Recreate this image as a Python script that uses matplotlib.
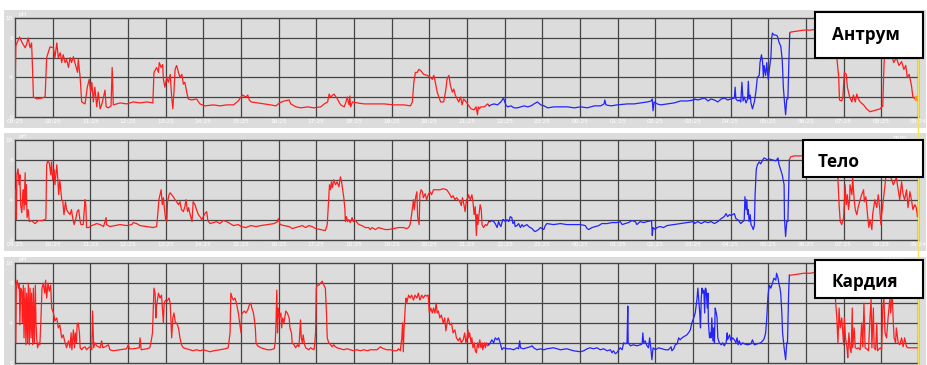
import numpy as np
import matplotlib
matplotlib.use("Agg")
import matplotlib.pyplot as plt
from matplotlib.patches import Rectangle

# ---- data: hours since 09:25 and pH, three probes ----
antrum_t = [0.00, 0.02, 0.12, 0.18, 0.27, 0.31, 0.35, 0.40, 0.44, 0.46, 0.49, 0.58, 0.71, 0.80, 0.84, 0.93,
            1.02, 1.06, 1.11, 1.15, 1.20, 1.24, 1.28, 1.33, 1.37, 1.42, 1.46, 1.50, 1.55, 1.59, 1.66, 1.68,
            1.73, 1.77, 1.86, 1.92, 1.97, 2.01, 2.04, 2.08, 2.12, 2.17, 2.21, 2.26, 2.30, 2.35, 2.39, 2.42,
            2.48, 2.55, 2.58, 2.61, 2.79, 2.97, 3.14, 3.32, 3.50, 3.66, 3.69, 3.76, 3.81, 3.83, 3.88, 3.92,
            3.94, 3.98, 4.03, 4.07, 4.12, 4.16, 4.19, 4.22, 4.25, 4.29, 4.34, 4.38, 4.43, 4.47, 4.51, 4.56,
            4.60, 4.69, 4.82, 4.91, 5.04, 5.27, 5.44, 5.62, 5.80, 5.93,
            5.96, 6.04, 6.13, 6.18, 6.22, 6.27, 6.44, 6.62, 6.79, 6.93, 7.02, 7.15, 7.28, 7.32, 7.46, 7.59,
            7.77, 7.94, 8.12, 8.21, 8.30, 8.34, 8.38, 8.47, 8.56, 8.60, 8.65, 8.74, 8.78, 8.82, 8.87, 8.89,
            8.91, 8.96, 9.09, 9.27, 9.53, 9.80, 10.06, 10.33, 10.50, 10.55, 10.59, 10.63, 10.68, 10.72, 10.77,
            10.81, 10.85, 10.94, 11.03, 11.08, 11.12, 11.16, 11.21, 11.30, 11.38, 11.43, 11.47, 11.52, 11.56,
            11.61, 11.65, 11.69, 11.74, 11.78, 11.83, 11.87, 11.91, 11.96, 12.05,
            12.11, 12.19, 12.24, 12.28, 12.30, 12.33, 12.37, 12.46, 12.55, 12.59, 12.64, 12.72, 12.81, 12.90,
            12.97, 13.03, 13.08, 13.17, 13.25, 13.34, 13.43, 13.52, 13.61, 13.70, 13.78, 13.87, 13.96, 14.05,
            14.14, 14.31, 14.49, 14.67, 14.85, 15.02, 15.20, 15.38, 15.55, 15.64, 15.66, 15.69, 15.82, 15.99,
            16.26, 16.44, 16.61, 16.79, 16.89, 16.92, 16.94, 16.97, 17.05, 17.14, 17.32, 17.50, 17.67, 17.85,
            18.03,
            18.04, 18.13, 18.22, 18.31, 18.40, 18.48, 18.57, 18.66, 18.75, 18.84, 18.92, 19.01, 19.10, 19.12,
            19.14, 19.19, 19.23, 19.27, 19.30, 19.33, 19.36, 19.41, 19.45, 19.47, 19.49, 19.52, 19.54, 19.58,
            19.63, 19.67, 19.71, 19.76, 19.78, 19.82, 19.85, 19.87, 19.89, 19.93, 19.96, 19.98, 20.00, 20.02,
            20.05, 20.07, 20.09, 20.11, 20.15, 20.20, 20.24, 20.29, 20.33, 20.37, 20.40, 20.43, 20.46, 20.49,
            20.52, 20.55, 20.57, 20.59, 20.77, 20.94, 21.12, 21.30, 21.56, 21.78, 21.82, 21.87, 21.89, 21.95,
            21.98, 22.02, 22.07, 22.10, 22.16, 22.22, 22.26, 22.31, 22.35, 22.39, 22.44, 22.53, 22.61, 22.70,
            22.79, 22.88, 22.97, 23.04, 23.07, 23.11, 23.16, 23.21, 23.27, 23.33, 23.40, 23.47, 23.54, 23.60,
            23.65, 23.69, 23.74, 23.80, 23.84, 23.90, 23.96]
antrum_ph = [2.0, 7.2, 8.1, 7.6, 7.0, 7.4, 8.0, 7.0, 7.5, 5.5, 2.0, 1.8, 1.9, 2.0, 6.0, 7.1,
             7.0, 6.0, 7.5, 6.0, 6.5, 5.5, 6.3, 5.5, 5.8, 5.0, 6.0, 5.5, 6.1, 5.5, 4.5, 5.8,
             4.0, 1.5, 1.3, 3.0, 3.8, 2.5, 3.5, 1.5, 3.0, 1.0, 2.5, 0.8, 1.2, 2.0, 2.7, 1.0,
             0.9, 1.1, 5.0, 1.2, 1.4, 1.3, 1.5, 1.4, 1.5, 1.4, 4.5, 5.0, 4.5, 5.5, 5.0, 5.3,
             3.8, 3.0, 4.0, 3.5, 4.3, 2.0, 0.8, 2.5, 4.8, 5.2, 4.5, 4.0, 4.3, 3.3, 3.5, 2.5,
             1.8, 1.7, 1.8, 1.3, 1.1, 1.2, 1.1, 1.2, 1.2, 1.6,
             1.8, 2.2, 2.0, 2.2, 1.7, 1.5, 1.4, 1.3, 1.2, 1.1, 1.4, 1.6, 1.7, 1.3, 1.0, 0.9,
             1.0, 0.9, 1.0, 1.3, 1.5, 2.3, 2.0, 2.3, 1.8, 1.5, 1.2, 1.0, 1.4, 2.0, 1.2, 2.1,
             1.0, 1.5, 1.4, 1.3, 1.3, 1.3, 1.2, 1.2, 1.1, 1.5, 3.5, 4.5, 4.5, 4.8, 4.7,
             4.5, 4.3, 4.2, 4.0, 3.8, 4.2, 3.5, 2.5, 1.5, 1.5, 2.5, 3.8, 4.2, 3.2,
             2.5, 2.8, 2.2, 1.8, 1.5, 2.0, 1.2, 1.8, 1.6, 1.1,
             0.8, 0.7, 1.0, 0.2, 1.0, 0.8, 1.0, 1.0, 1.3, 1.1, 1.2, 1.3, 1.2, 1.5,
             1.9, 1.2, 1.0, 1.1, 0.9, 0.9, 1.0, 1.1, 1.0, 1.1, 1.3, 1.5, 1.2, 1.1,
             0.9, 1.0, 1.0, 1.0, 0.9, 1.0, 0.9, 1.1, 1.1, 1.3, 1.7, 1.2, 1.1, 1.2,
             1.3, 1.3, 1.4, 1.5, 1.6, 1.8, 0.6, 1.5, 1.3, 1.2, 1.3, 1.4, 1.6, 1.6,
             1.7,
             1.8, 1.7, 1.8, 1.9, 1.6, 1.8, 1.7, 1.5, 1.8, 1.9, 1.7, 1.8, 1.9, 3.0,
             1.8, 1.6, 1.7, 1.5, 3.5, 1.6, 2.0, 1.4, 1.8, 3.6, 1.8, 2.2, 1.4, 0.8,
             1.5, 2.5, 4.0, 4.2, 5.5, 6.3, 5.5, 4.0, 5.2, 4.2, 5.5, 4.5, 3.8, 4.5,
             5.5, 6.0, 8.0, 8.5, 8.3, 8.3, 8.2, 7.5, 7.2, 5.8, 3.0, 1.5, 0.2, 1.8,
             1.8, 6.0, 8.5, 8.6, 8.7, 8.8, 8.8, 8.9, 8.9, 8.8, 6.0, 4.0, 1.7, 1.6,
             2.0, 4.5, 4.3, 3.0, 2.0, 1.5, 2.2, 1.5, 2.3, 1.8, 1.5, 1.2, 0.8, 0.5,
             0.6, 0.7, 0.8, 1.1, 5.0, 8.0, 7.5, 6.0, 6.3, 5.5, 6.0, 5.2, 5.6, 4.8,
             5.2, 4.0, 4.3, 3.2, 2.0, 1.8, 1.9]

telo_t = [0.00, 0.02, 0.035, 0.05, 0.08, 0.11, 0.13, 0.15, 0.18, 0.20, 0.22, 0.24, 0.27, 0.28, 0.30, 0.32,
          0.35, 0.38, 0.44, 0.53, 0.62, 0.71, 0.80, 0.82, 0.84, 0.87, 0.91, 0.95, 0.97, 1.00, 1.04, 1.06,
          1.11, 1.13, 1.16, 1.19, 1.22, 1.24, 1.27, 1.30, 1.34, 1.37, 1.42, 1.46, 1.50, 1.53, 1.57, 1.61,
          1.65, 1.69, 1.73, 1.75, 1.81, 1.86, 1.88, 1.90, 1.95, 2.04, 2.17, 2.26, 2.35, 2.39, 2.42, 2.43,
          2.52, 2.65, 2.79, 2.96, 3.10, 3.14, 3.23, 3.32, 3.50, 3.67, 3.76, 3.79, 3.82, 3.85, 3.88, 3.91,
          3.94, 3.97, 4.00, 4.03, 4.05, 4.09, 4.12, 4.16, 4.20, 4.25, 4.29, 4.34, 4.38, 4.42, 4.47, 4.51,
          4.54, 4.58, 4.61, 4.65, 4.70, 4.73, 4.78, 4.82, 4.87, 4.91, 4.96, 5.00, 5.04, 5.09, 5.12, 5.18,
          5.27, 5.35, 5.44, 5.53, 5.62, 5.71, 5.80, 5.93,
          6.00, 6.13, 6.26, 6.40, 6.53, 6.70, 6.88, 6.97, 6.99, 7.04, 7.14, 7.28, 7.36, 7.45, 7.54, 7.63,
          7.72, 7.80, 7.89, 7.98, 8.11, 8.24, 8.29, 8.32, 8.35, 8.38, 8.40, 8.43, 8.46, 8.51, 8.55, 8.60,
          8.64, 8.67, 8.70, 8.73, 8.76, 8.77, 8.80, 8.83, 8.86, 8.90, 8.95, 8.98, 9.01, 9.06, 9.13, 9.21,
          9.30, 9.39, 9.43, 9.48, 9.57, 9.65, 9.74, 9.83, 9.92, 10.05, 10.18, 10.31, 10.40, 10.45, 10.49,
          10.53, 10.58, 10.60, 10.64, 10.67, 10.69, 10.73, 10.75, 10.78, 10.82, 10.84, 10.89, 10.93, 10.97,
          11.02, 11.06, 11.11, 11.15, 11.19, 11.24, 11.28, 11.37, 11.46, 11.50, 11.55, 11.59, 11.63, 11.68,
          11.72, 11.77, 11.81, 11.85, 11.88, 11.92, 11.95, 11.99, 12.03,
          12.04, 12.09, 12.13, 12.16, 12.19, 12.22, 12.25, 12.27, 12.29, 12.33, 12.35, 12.38, 12.40, 12.44,
          12.49, 12.53, 12.58, 12.62, 12.66, 12.71, 12.75, 12.80, 12.84, 12.87, 12.90, 12.95, 12.97, 13.02,
          13.06, 13.11, 13.15, 13.19, 13.22, 13.26, 13.28, 13.33, 13.37, 13.42, 13.46, 13.50, 13.59, 13.64,
          13.68, 13.73, 13.77, 13.81, 13.86, 13.90, 13.95, 13.99, 14.04, 14.08, 14.12, 14.30, 14.48, 14.65,
          14.83, 15.01, 15.14, 15.19, 15.23, 15.32, 15.41, 15.50, 15.58, 15.72, 15.85, 15.98, 16.07, 16.12,
          16.20, 16.29, 16.38, 16.47, 16.51, 16.60, 16.69, 16.78, 16.90, 16.92, 16.94, 17.00, 17.04, 17.13,
          17.22, 17.31, 17.49, 17.66, 17.84, 18.02,
          18.04, 18.13, 18.22, 18.31, 18.40, 18.48, 18.57, 18.66, 18.75, 18.83, 18.88, 18.92, 18.97, 19.01,
          19.05, 19.10, 19.14, 19.19, 19.23, 19.27, 19.32, 19.36, 19.38, 19.41, 19.43, 19.45, 19.47, 19.49,
          19.52, 19.54, 19.57, 19.60, 19.63, 19.65, 19.68, 19.71, 19.76, 19.80, 19.85, 19.89, 19.98, 20.02,
          20.11, 20.20, 20.26, 20.28, 20.33, 20.37, 20.42, 20.43, 20.46, 20.49, 20.52, 20.56, 20.59, 20.68,
          20.86, 21.03, 21.30, 21.51, 21.82, 21.85, 21.88, 21.91, 21.95, 22.00, 22.04, 22.07, 22.10, 22.13,
          22.16, 22.17, 22.22, 22.24, 22.28, 22.31, 22.35, 22.39, 22.44, 22.48, 22.53, 22.55, 22.59, 22.61,
          22.64, 22.67, 22.70, 22.75, 22.77, 22.81, 22.83, 22.88, 22.92, 22.96, 22.99, 23.01, 23.04, 23.07,
          23.10, 23.14, 23.23, 23.32, 23.40, 23.49, 23.54, 23.58, 23.62, 23.67, 23.71, 23.76, 23.80, 23.84,
          23.89, 23.93, 23.96]
telo_ph = [3.0, 5.0, 2.0, 6.5, 7.1, 5.5, 6.5, 3.5, 2.7, 4.0, 5.0, 3.0, 6.7, 3.5, 5.5, 2.2,
           3.0, 1.8, 1.9, 1.6, 1.9, 1.9, 2.0, 2.1, 7.5, 7.9, 7.7, 6.5, 7.8, 6.0, 7.0, 5.5,
           7.5, 6.5, 4.5, 6.0, 4.8, 4.0, 3.8, 2.5, 3.8, 3.0, 2.7, 2.5, 3.0, 2.2, 1.5, 2.0,
           2.8, 3.0, 1.8, 1.5, 1.5, 4.0, 3.5, 1.2, 1.2, 1.4, 1.6, 1.5, 1.3, 1.8, 2.2, 1.5,
           1.3, 1.4, 1.5, 1.4, 1.5, 1.7, 1.6, 1.4, 1.3, 1.2, 1.3, 2.5, 4.0, 4.5, 5.0, 3.5,
           4.2, 3.0, 2.0, 1.8, 3.8, 4.5, 4.7, 4.5, 4.3, 4.0, 3.8, 3.5, 3.8, 3.0, 2.8, 3.3,
           4.0, 2.8, 3.2, 2.5, 1.8, 3.8, 3.5, 3.0, 2.5, 2.3, 2.0, 2.3, 2.6, 2.8, 1.9, 1.6,
           1.7, 1.8, 1.6, 1.9, 1.8, 1.6, 1.4, 1.5,
           1.3, 1.2, 1.4, 1.3, 1.4, 1.5, 1.6, 1.8, 2.1, 1.5, 1.4, 1.3, 1.1, 1.2, 1.3, 1.4,
           1.2, 1.4, 1.3, 1.1, 1.0, 0.9, 1.5, 3.5, 5.5, 5.0, 5.8, 5.2, 6.0, 5.5, 5.8, 5.3,
           6.3, 5.8, 5.0, 4.2, 3.0, 1.8, 2.3, 1.8, 2.0, 1.7, 2.2, 1.8, 2.0, 1.8, 1.5, 1.4,
           1.2, 1.2, 1.0, 1.2, 1.0, 1.2, 1.1, 1.0, 1.0, 1.1, 1.2, 1.2, 1.1, 1.2, 1.5,
           2.5, 4.0, 3.0, 4.3, 4.8, 2.3, 1.5, 4.5, 5.0, 4.8, 4.2, 4.6, 4.0, 4.5,
           4.8, 4.5, 5.0, 5.0, 5.0, 5.0, 5.0, 5.1, 5.0, 4.8, 4.5, 4.2, 4.4, 4.0,
           4.2, 4.0, 3.8, 3.4, 4.2, 3.5, 2.8, 4.0, 4.2,
           4.5, 4.0, 4.5, 3.8, 2.5, 3.3, 0.4, 2.5, 1.5, 2.8, 3.5, 3.0, 1.5, 1.2,
           1.5, 1.4, 1.8, 1.8, 1.9, 1.8, 1.6, 1.2, 1.8, 1.5, 1.3, 2.0, 2.0, 1.8,
           2.0, 1.8, 2.3, 2.2, 1.6, 1.8, 1.3, 1.4, 1.6, 1.2, 1.5, 1.3, 1.5, 1.3,
           1.2, 1.1, 0.9, 0.8, 0.9, 1.0, 1.2, 1.1, 1.0, 1.4, 1.6, 1.5, 1.6, 1.5,
           1.5, 1.5, 1.4, 1.1, 1.0, 1.2, 1.3, 1.4, 1.6, 1.6, 1.7, 1.7, 1.8, 1.5,
           1.6, 1.7, 1.9, 1.8, 1.5, 1.8, 1.7, 1.8, 1.9, 0.4, 1.2, 1.0, 1.2, 1.3,
           1.2, 1.4, 1.5, 1.6, 1.7, 1.8,
           1.6, 1.8, 1.6, 1.8, 1.7, 1.8, 1.6, 1.8, 2.1, 2.3, 2.6, 2.3, 2.5, 2.4,
           2.5, 2.6, 2.1, 2.0, 1.8, 1.6, 1.8, 1.9, 4.3, 3.0, 4.0, 2.5, 3.0, 1.8,
           2.5, 1.5, 1.3, 1.0, 1.4, 4.5, 7.0, 7.5, 7.8, 7.6, 8.0, 8.2, 8.0, 8.1,
           8.0, 7.9, 8.2, 7.6, 7.0, 6.5, 5.5, 2.0, 0.3, 1.8, 1.8, 8.0, 8.3, 8.4,
           8.4, 8.5, 8.6, 8.6, 8.5, 6.0, 3.5, 1.8, 1.5, 2.2, 5.5, 3.5, 4.5, 3.0,
           4.0, 5.5, 4.5, 6.3, 4.0, 3.0, 2.5, 3.3, 4.0, 4.5, 5.0, 3.8, 4.3, 3.5,
           2.3, 1.2, 2.0, 1.0, 2.5, 3.5, 4.0, 3.2, 4.5, 3.0, 1.5, 2.5, 3.5, 4.5,
           5.5, 7.0, 6.5, 5.5, 6.2, 4.0, 5.8, 4.5, 4.0, 5.0, 3.2, 4.8, 4.0, 3.0,
           3.5, 3.2, 2.3]

kardia_t = [0.00, 0.02, 0.035, 0.06, 0.09, 0.115, 0.13, 0.15, 0.18, 0.195, 0.22, 0.24, 0.265, 0.29, 0.31,
            0.335, 0.354, 0.38, 0.40, 0.425, 0.44, 0.47, 0.487, 0.513, 0.54, 0.557, 0.575, 0.60, 0.63, 0.66,
            0.69, 0.717, 0.75, 0.79, 0.814, 0.84, 0.876, 0.91, 0.947, 0.973, 1.02, 1.06, 1.11, 1.15, 1.19,
            1.24, 1.28, 1.33, 1.37, 1.42, 1.46, 1.49, 1.51, 1.55, 1.58, 1.60, 1.63, 1.65, 1.68, 1.71, 1.73,
            1.77, 1.81, 1.86, 1.90, 1.95, 1.99, 2.04, 2.06, 2.09, 2.12, 2.17, 2.26, 2.30, 2.33, 2.39, 2.48,
            2.52, 2.61, 2.79, 2.96, 3.01, 3.04, 3.14, 3.30, 3.32, 3.35, 3.50, 3.58, 3.63, 3.65, 3.69, 3.72,
            3.74, 3.76, 3.81, 3.85, 3.89, 3.94, 3.96, 4.00, 4.04, 4.09, 4.12, 4.16, 4.19, 4.22, 4.26, 4.29,
            4.34, 4.38, 4.42, 4.47, 4.56, 4.65, 4.73, 4.82, 4.91, 5.00, 5.09, 5.18, 5.27, 5.44, 5.58, 5.66,
            5.71, 5.73, 5.77, 5.80, 5.84, 5.88, 5.93,
            6.00, 6.02, 6.04, 6.09, 6.13, 6.18, 6.22, 6.26, 6.29, 6.33, 6.35, 6.38, 6.40, 6.44, 6.53, 6.62,
            6.70, 6.79, 6.88, 6.91, 6.93, 6.95, 6.97, 6.99, 7.02, 7.06, 7.08, 7.11, 7.14, 7.19, 7.23, 7.28,
            7.30, 7.34, 7.36, 7.41, 7.45, 7.50, 7.54, 7.57, 7.58, 7.60, 7.63, 7.65, 7.69, 7.72, 7.76, 7.80,
            7.85, 7.89, 7.94, 7.96, 7.98, 8.00, 8.02, 8.07, 8.11, 8.16, 8.20, 8.24, 8.27, 8.29, 8.33, 8.38,
            8.42, 8.46, 8.51, 8.55, 8.64, 8.73, 8.82, 8.90, 8.99, 9.08, 9.17, 9.26, 9.35, 9.43, 9.61, 9.70,
            9.74, 9.79, 9.87, 9.96, 10.05, 10.14, 10.18, 10.23, 10.27, 10.29, 10.31, 10.33, 10.36, 10.38,
            10.40, 10.45, 10.49, 10.53, 10.58, 10.62, 10.67, 10.71, 10.75, 10.80, 10.84, 10.89, 10.93, 10.97,
            11.00, 11.04, 11.08, 11.11, 11.15, 11.18, 11.21, 11.24, 11.28, 11.32, 11.37, 11.41, 11.44, 11.47,
            11.50, 11.55, 11.59, 11.63, 11.68, 11.72, 11.77, 11.81, 11.85, 11.90, 11.94, 11.97, 12.00, 12.03,
            12.04, 12.07, 12.11, 12.13, 12.16, 12.19, 12.22, 12.25, 12.28, 12.31, 12.34, 12.37, 12.40, 12.42,
            12.46, 12.49, 12.51, 12.55, 12.58, 12.62, 12.66, 12.71, 12.75, 12.80, 12.84, 12.88, 12.93, 12.97,
            13.06, 13.15, 13.24, 13.33, 13.37, 13.40, 13.42, 13.50, 13.59, 13.68, 13.73, 13.77, 13.86, 13.95,
            14.04, 14.12, 14.30, 14.48, 14.65, 14.83, 15.01, 15.10, 15.19, 15.27, 15.36, 15.45, 15.54, 15.63,
            15.72, 15.81, 15.85, 15.89, 15.94, 15.98, 16.03, 16.07, 16.12, 16.16, 16.20, 16.25, 16.27, 16.28,
            16.34, 16.42, 16.51, 16.60, 16.65, 16.67, 16.69, 16.73, 16.78, 16.82, 16.85, 16.88, 16.91, 16.94,
            17.00, 17.09, 17.18, 17.27, 17.35, 17.42, 17.44, 17.49, 17.53, 17.58, 17.62, 17.66, 17.71, 17.75,
            17.84, 17.88, 17.93, 17.97, 18.02, 18.06, 18.11, 18.13, 18.16,
            18.18, 18.20, 18.22, 18.24, 18.26, 18.29, 18.31, 18.33, 18.35, 18.38, 18.40, 18.41, 18.44, 18.47,
            18.48, 18.50, 18.53, 18.55, 18.57, 18.59, 18.62, 18.64, 18.66, 18.70, 18.75, 18.79, 18.83, 18.88,
            18.91, 18.92, 18.97, 19.01, 19.05, 19.10, 19.14, 19.17, 19.20, 19.23, 19.27, 19.32, 19.36, 19.45,
            19.54, 19.58, 19.63, 19.71, 19.80, 19.85, 19.89, 19.93, 19.96, 19.98, 20.00, 20.03, 20.07, 20.11,
            20.15, 20.20, 20.22, 20.26, 20.28, 20.31, 20.33, 20.36, 20.38, 20.42, 20.46, 20.49, 20.51, 20.54,
            20.56, 20.59, 20.77, 20.94, 21.12, 21.25, 21.47, 21.69, 21.75, 21.78, 21.82, 21.85, 21.88, 21.91,
            21.95, 22.00, 22.02, 22.05, 22.09, 22.11, 22.14, 22.17, 22.20, 22.23, 22.24, 22.28, 22.31, 22.35,
            22.39, 22.44, 22.48, 22.51, 22.54, 22.57, 22.61, 22.66, 22.70, 22.73, 22.75, 22.79, 22.81, 22.85,
            22.88, 22.90, 22.97, 23.01, 23.04, 23.07, 23.10, 23.14, 23.18, 23.23, 23.25, 23.29, 23.32, 23.34,
            23.38, 23.40, 23.45, 23.49, 23.54, 23.58, 23.62, 23.67, 23.71, 23.80, 23.89, 23.96]
kardia_ph = [7.8, 2.0, 8.0, 8.3, 7.5, 8.0, 3.8, 7.5, 7.2, 4.0, 7.8, 2.5, 7.5, 1.8, 7.0,
             2.0, 8.0, 1.8, 7.5, 2.5, 7.0, 1.8, 7.5, 2.0, 7.8, 4.0, 2.5, 1.5, 2.0, 1.8,
             4.5, 7.5, 8.0, 7.0, 8.3, 6.5, 8.0, 7.2, 7.8, 5.5, 5.0, 4.2, 4.5, 3.5, 3.8,
             2.5, 2.8, 2.0, 1.5, 2.2, 1.5, 3.0, 1.3, 3.3, 1.5, 3.0, 2.0, 3.8, 4.0, 3.0, 1.5,
             1.3, 1.5, 1.6, 1.3, 1.5, 1.6, 1.3, 5.2, 1.5, 2.0, 1.7, 1.5, 2.2, 1.5, 1.6, 1.8,
             1.3, 1.2, 1.3, 1.4, 1.8, 1.4, 1.4, 1.5, 2.5, 1.3, 1.4, 1.5, 2.5, 3.0, 7.5, 7.0,
             4.5, 5.8, 7.0, 6.5, 6.8, 4.0, 6.0, 6.3, 6.2, 6.5, 6.0, 2.5, 4.5, 5.0, 4.0, 4.0,
             3.5, 2.5, 1.8, 1.5, 1.4, 1.3, 1.2, 1.3, 1.2, 1.3, 1.2, 1.1, 1.2, 1.3, 1.4, 1.5,
             3.0, 7.0, 6.5, 6.3, 6.5, 6.0, 5.0,
             3.0, 5.0, 5.0, 5.2, 5.0, 5.3, 5.8, 6.0, 5.5, 5.0, 4.5, 3.5, 2.0, 1.7, 1.5, 1.4,
             1.3, 1.3, 1.4, 2.0, 4.0, 7.3, 3.0, 5.5, 4.5, 5.0, 3.5, 4.5, 4.0, 5.2, 5.0, 4.5,
             3.5, 3.0, 2.0, 1.8, 1.5, 1.8, 1.6, 3.5, 4.3, 2.5, 2.0, 2.8, 1.8, 1.5, 1.4, 1.3,
             1.5, 1.4, 1.3, 2.0, 3.0, 7.5, 7.8, 7.8, 8.0, 8.2, 7.8, 7.5, 5.0, 2.5, 2.0, 1.8,
             1.6, 1.8, 1.6, 1.5, 1.4, 1.3, 1.4, 1.3, 1.2, 1.3, 1.2, 1.3, 1.2, 1.3, 1.3, 1.6,
             1.5, 1.4, 1.3, 1.3, 1.2, 1.2, 1.4, 1.2, 2.5, 4.0, 1.1, 3.5, 5.5, 6.5,
             6.0, 6.8, 6.5, 6.8, 6.3, 6.8, 6.5, 7.0, 6.3, 6.8, 6.5, 6.8, 6.7, 6.8,
             5.0, 5.5, 5.0, 5.5, 5.0, 6.0, 5.0, 5.2, 4.5, 4.8, 4.0, 4.5, 3.2, 4.0,
             4.5, 3.8, 4.0, 3.0, 3.3, 2.5, 2.2, 2.5, 2.0, 2.3, 3.0, 2.0, 2.5, 3.3,
             2.5, 3.0, 2.0, 2.5, 1.5, 2.0, 1.2, 1.0, 2.0, 1.5, 2.3, 1.5, 2.0, 1.3,
             2.0, 1.5, 2.0, 1.7, 1.8, 2.0, 2.3, 2.0, 2.5, 2.3, 2.5, 2.0, 1.3, 1.5,
             1.4, 1.4, 1.3, 1.5, 1.4, 2.2, 1.5, 1.4, 1.5, 1.6, 1.7, 1.5, 1.3, 1.4,
             1.3, 1.4, 1.5, 1.3, 1.4, 1.2, 1.1, 1.2, 1.4, 1.5, 1.4, 1.5, 1.3, 1.4,
             1.2, 1.3, 1.0, 1.2, 0.9, 1.0, 1.3, 1.5, 1.3, 2.0, 1.9, 2.0, 5.7, 2.0,
             1.7, 1.8, 1.7, 1.8, 1.9, 3.0, 2.0, 2.2, 1.7, 1.5, 2.5, 1.5, 0.3, 1.5,
             1.3, 1.5, 1.4, 1.3, 1.3, 1.6, 1.2, 1.4, 1.8, 1.9, 2.5, 2.3, 2.5, 2.6,
             2.8, 3.0, 3.3, 4.0, 4.5, 5.0, 6.5, 7.5, 6.0,
             5.0, 3.5, 6.5, 7.5, 7.0, 7.3, 5.0, 7.5, 7.4, 5.5, 7.0, 4.0, 2.5, 3.0,
             2.5, 4.5, 2.2, 3.5, 2.0, 5.5, 5.0, 4.5, 2.5, 2.0, 1.8, 2.0, 1.7, 2.0,
             3.0, 2.3, 2.8, 2.2, 2.5, 2.3, 2.0, 2.5, 1.8, 2.2, 1.8, 2.0, 1.9, 1.8,
             1.9, 2.3, 1.8, 1.9, 2.0, 2.2, 2.4, 3.0, 4.5, 6.0, 7.0, 7.8, 7.5, 8.0,
             8.5, 8.3, 9.0, 8.5, 8.0, 7.5, 7.0, 5.0, 3.0, 1.5, 0.3, 2.0, 2.0, 7.0,
             8.8, 8.8, 8.9, 9.0, 9.0, 9.1, 9.1, 9.0, 8.0, 6.5, 4.5, 2.0, 5.5, 3.5,
             4.5, 1.8, 4.5, 2.5, 1.5, 0.5, 3.0, 1.5, 1.0, 5.5, 1.5, 3.5, 1.5, 1.4,
             1.5, 1.3, 4.0, 1.6, 6.0, 1.5, 1.4, 1.2, 4.5, 6.5, 1.5, 5.5, 1.5, 1.3,
             4.0, 1.2, 1.5, 1.3, 5.5, 6.5, 3.0, 2.5, 4.5, 6.5, 5.0, 7.0, 4.0, 2.5,
             2.0, 3.5, 2.0, 1.8, 2.5, 1.6, 2.5, 1.6, 1.5, 1.5, 1.5, 1.5]

# hours during which each trace is drawn in blue
antrum_blue = (12.59, 20.57)
telo_blue = (12.58, 20.56)
kardia_blue = (12.58, 20.56)

probe_names = ["Антрум", "Тело", "Кардия"]
probe_tags = ["антрум", "тело", "кардия"]

hour_labels = ["09:25", "10:25", "11:25", "12:25", "13:25", "14:25", "15:25", "16:25", "17:25",
               "18:25", "19:25", "20:25", "21:25", "22:25", "23:25", "00:25", "01:25", "02:25",
               "03:25", "04:25", "05:25", "06:25", "07:25", "08:25", "09:24"]
hour_ticks = list(range(24)) + [23.983]
ph_gridlines = [2, 4, 6, 8]
ph_ticks = [0, 4, 8, 10]

# ---- layout (pixel geometry of a 928x365 canvas) ----
W, H = 928, 365
fig = plt.figure(figsize=(W / 100, H / 100), dpi=100)
fig.patch.set_facecolor("white")

PANEL_GREY = "#DCDCDC"
GRID = "#444444"
RED = "#FF1E1E"
BLUE = "#2323FF"

back = fig.add_axes([0, 0, 1, 1], zorder=0)
back.set_xlim(0, W)
back.set_ylim(H, 0)
back.axis("off")
for top, bottom in [(10, 128), (133, 251), (257, 366)]:
    back.add_patch(Rectangle((4, top), 922, bottom - top, facecolor=PANEL_GREY, edgecolor="none"))

plot_boxes = [(18.3, 116.7), (140.0, 239.5), (263.3, 362.7)]
x_left, x_right = 15.0, 918.3

series = [(antrum_t, antrum_ph, antrum_blue),
          (telo_t, telo_ph, telo_blue),
          (kardia_t, kardia_ph, kardia_blue)]

axes = []
for i, ((top, bottom), (t, ph, (b0, b1))) in enumerate(zip(plot_boxes, series)):
    ax = fig.add_axes([x_left / W, 1 - bottom / H, (x_right - x_left) / W, (bottom - top) / H],
                      zorder=1)
    ax.set_facecolor(PANEL_GREY)
    ax.set_xlim(0, 23.983)
    ax.set_ylim(0, 10)
    for h in hour_ticks[1:-1]:
        ax.axvline(h, color=GRID, lw=0.9, zorder=1)
    for p in ph_gridlines:
        ax.axhline(p, color=GRID, lw=0.9, zorder=1)
    for s in ax.spines.values():
        s.set_color(GRID)
        s.set_linewidth(1.0)

    t = np.asarray(t)
    ph = np.asarray(ph)
    i0 = int(np.searchsorted(t, b0))
    i1 = int(np.searchsorted(t, b1))
    ax.plot(t[:i0 + 1], ph[:i0 + 1], color=RED, lw=0.9, zorder=3)
    ax.plot(t[i0:i1 + 1], ph[i0:i1 + 1], color=BLUE, lw=0.9, zorder=3)
    ax.plot(t[i1:], ph[i1:], color=RED, lw=0.9, zorder=3)

    ax.set_xticks(hour_ticks)
    if i < 2:
        ax.set_xticklabels(hour_labels)
    else:
        ax.set_xticklabels([])
    ax.set_yticks(ph_ticks)
    ax.set_yticklabels([str(v) for v in ph_ticks])
    ax.tick_params(length=0, labelsize=4.2, labelcolor="white")
    ax.tick_params(axis="x", pad=1.6)
    ax.tick_params(axis="y", pad=1.5)
    ax.text(0.004, 1.012, "pH", transform=ax.transAxes, fontsize=4.2, color="white",
            ha="left", va="bottom")
    axes.append(ax)

# end-of-record marker on the upper trace
axes[0].plot(antrum_t[-1], antrum_ph[-1], "s", color="#FF9A1A", ms=2.5, zorder=4)

front = fig.add_axes([0, 0, 1, 1], zorder=2)
front.set_xlim(0, W)
front.set_ylim(H, 0)
front.axis("off")
front.patch.set_alpha(0)

# cursor line at the end of the record
front.plot([917.7, 917.7], [12, H], color="#F2E35A", lw=1.0, zorder=1)

# small channel tags
front.text(900, 137.5, probe_tags[1], fontsize=4.2, color="white", ha="center", va="center")
front.text(893, 259.5, probe_tags[2], fontsize=4.2, color="white", ha="center", va="center")

label_boxes = [(815, 12, 108, 46, 832, 35),
               (803, 140, 120, 37, 818, 162),
               (815, 260, 108, 38, 832, 282)]
for name, (bx, by, bw, bh, tx, ty) in zip(probe_names, label_boxes):
    front.add_patch(Rectangle((bx, by), bw, bh, facecolor="white", edgecolor="black",
                              lw=1.5, zorder=5))
    front.text(tx, ty, name, fontsize=12.3, fontweight="bold", color="black",
               family=["Open Sans", "DejaVu Sans"], ha="left", va="center", zorder=6)

fig.savefig("out.png", dpi=100)
